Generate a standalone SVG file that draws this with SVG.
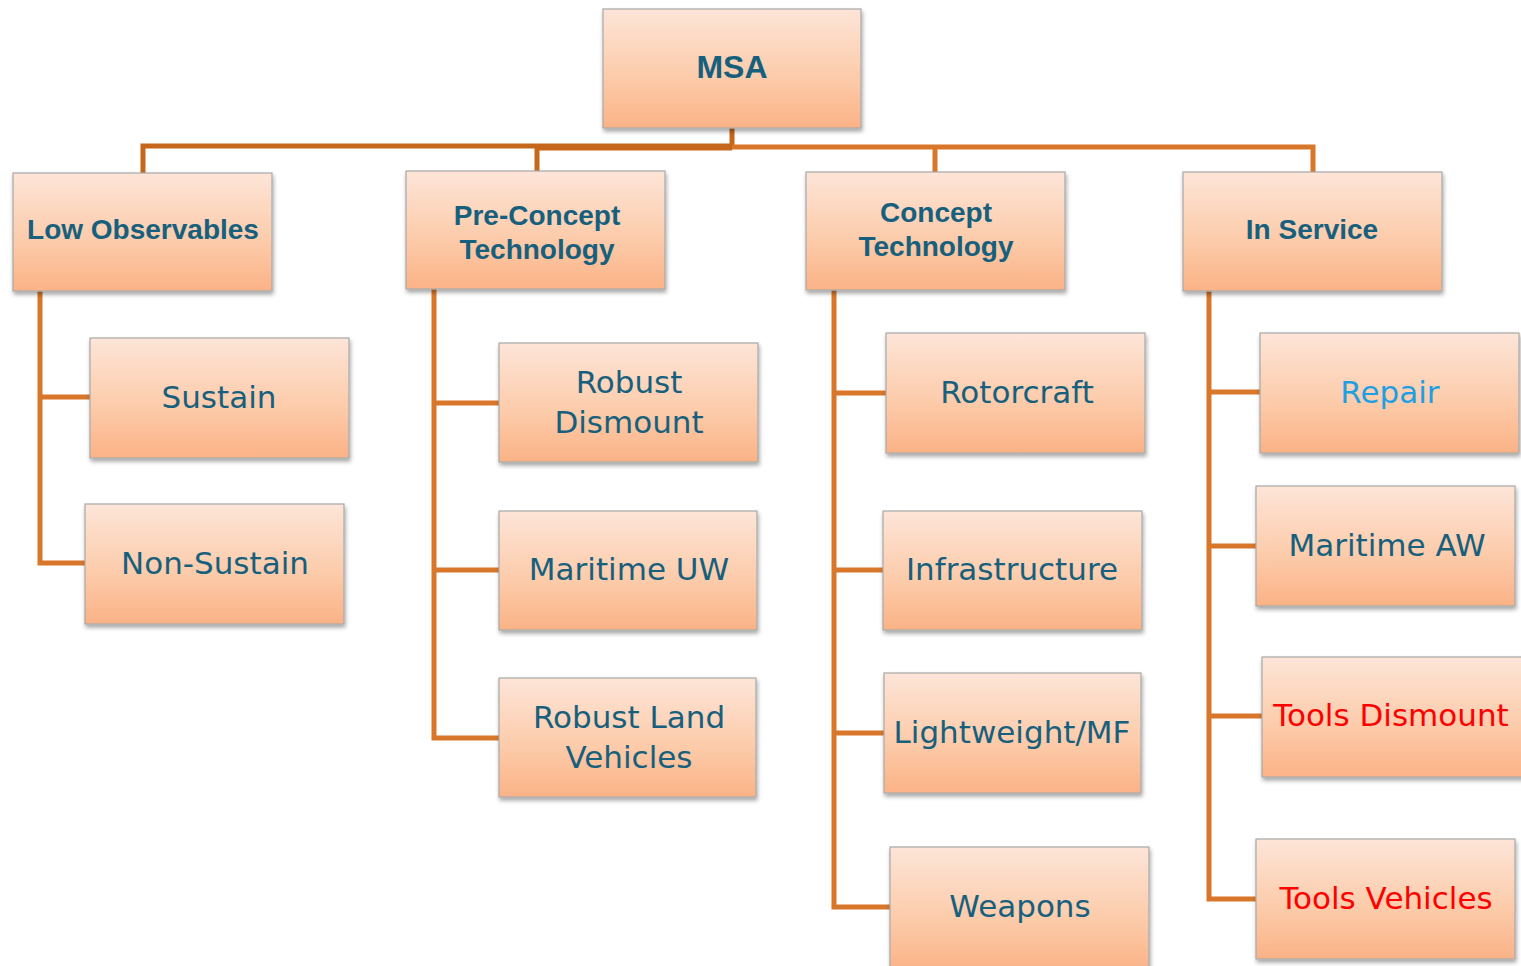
<svg xmlns="http://www.w3.org/2000/svg" width="1521" height="966" viewBox="0 0 1521 966">
<defs>
<linearGradient id="g" x1="0" y1="0" x2="0" y2="1">
<stop offset="0" stop-color="#FDE5D8"/>
<stop offset="0.6" stop-color="#FCCAA8"/>
<stop offset="1" stop-color="#FBB286"/>
</linearGradient>
<filter id="sh" x="-5%" y="-5%" width="112%" height="120%">
<feGaussianBlur in="SourceAlpha" stdDeviation="2"/>
<feOffset dx="1" dy="3"/>
<feComponentTransfer><feFuncA type="linear" slope="0.35"/></feComponentTransfer>
<feMerge><feMergeNode/><feMergeNode in="SourceGraphic"/></feMerge>
</filter>
</defs>
<style>
.box{fill:url(#g);stroke:#A8A8A8;stroke-width:1.2;filter:url(#sh)}
.t1{font-family:"Liberation Sans",Arial,sans-serif;font-weight:bold;font-size:28px;fill:#17607D;text-anchor:middle;dominant-baseline:central}
.t0{font-family:"Liberation Sans",Arial,sans-serif;font-weight:bold;font-size:32px;fill:#17607D;text-anchor:middle;dominant-baseline:central}
.t2{font-family:"DejaVu Sans",Verdana,sans-serif;font-size:31px;fill:#17607D;text-anchor:middle;dominant-baseline:central}
.blue{fill:#1E9FE3}
.red{fill:#FF0000}
.c1{stroke:#C5661A;stroke-width:5;fill:none}
.c2{stroke:#D8772A;stroke-width:5;fill:none}
</style>
<g id="connectors">
<path class="c1" d="M732 128 V147 M143 173 V146 H732 M537 171 V147 M537 148 H732"/>
<path class="c2" d="M732 147 H1313 V172 M935 147 V172"/>
<path class="c2" d="M40 291 V563 H85 M40 397 H90"/>
<path class="c2" d="M434 289 V738 H499 M434 403 H499 M434 570 H499"/>
<path class="c2" d="M834 290 V907 H890 M834 393 H886 M834 570 H883 M834 733 H884"/>
<path class="c2" d="M1209 291 V899 H1256 M1209 392 H1260 M1209 546 H1256 M1209 716 H1262"/>
</g>
<g id="msa"><rect class="box" x="603" y="9" width="258" height="119"/><text class="t0" x="732" y="67">MSA</text></g>
<g id="low-observables"><rect class="box" x="13" y="173" width="259" height="118"/><text class="t1" x="143" y="229">Low Observables</text></g>
<g id="pre-concept"><rect class="box" x="406" y="171" width="259" height="118"/><text class="t1" x="537" y="215">Pre-Concept</text><text class="t1" x="537" y="249">Technology</text></g>
<g id="concept"><rect class="box" x="806" y="172" width="259" height="118"/><text class="t1" x="936" y="212">Concept</text><text class="t1" x="936" y="246">Technology</text></g>
<g id="in-service"><rect class="box" x="1183" y="172" width="259" height="119"/><text class="t1" x="1312" y="229">In Service</text></g>
<g id="sustain"><rect class="box" x="90" y="338" width="259" height="120"/><text class="t2" x="219" y="397">Sustain</text></g>
<g id="non-sustain"><rect class="box" x="85" y="504" width="259" height="120"/><text class="t2" x="215" y="563">Non-Sustain</text></g>
<g id="robust-dismount"><rect class="box" x="499" y="343" width="259" height="119"/><text class="t2" x="629" y="382">Robust</text><text class="t2" x="629" y="422">Dismount</text></g>
<g id="maritime-uw"><rect class="box" x="499" y="511" width="258" height="119"/><text class="t2" x="629" y="569">Maritime UW</text></g>
<g id="robust-land"><rect class="box" x="499" y="678" width="257" height="119"/><text class="t2" x="629" y="717">Robust Land</text><text class="t2" x="629" y="757">Vehicles</text></g>
<g id="rotorcraft"><rect class="box" x="886" y="333" width="259" height="120"/><text class="t2" x="1017" y="392">Rotorcraft</text></g>
<g id="infrastructure"><rect class="box" x="883" y="511" width="259" height="119"/><text class="t2" x="1012" y="569">Infrastructure</text></g>
<g id="lightweight"><rect class="box" x="884" y="673" width="257" height="120"/><text class="t2" x="1012" y="732">Lightweight/MF</text></g>
<g id="weapons"><rect class="box" x="890" y="847" width="259" height="125"/><text class="t2" x="1020" y="906">Weapons</text></g>
<g id="repair"><rect class="box" x="1260" y="333" width="259" height="120"/><text class="t2 blue" x="1390" y="392">Repair</text></g>
<g id="maritime-aw"><rect class="box" x="1256" y="486" width="259" height="120"/><text class="t2" x="1387" y="545">Maritime AW</text></g>
<g id="tools-dismount"><rect class="box" x="1262" y="657" width="262" height="120"/><text class="t2 red" x="1391" y="715">Tools Dismount</text></g>
<g id="tools-vehicles"><rect class="box" x="1256" y="839" width="259" height="120"/><text class="t2 red" x="1386" y="898">Tools Vehicles</text></g>
</svg>
